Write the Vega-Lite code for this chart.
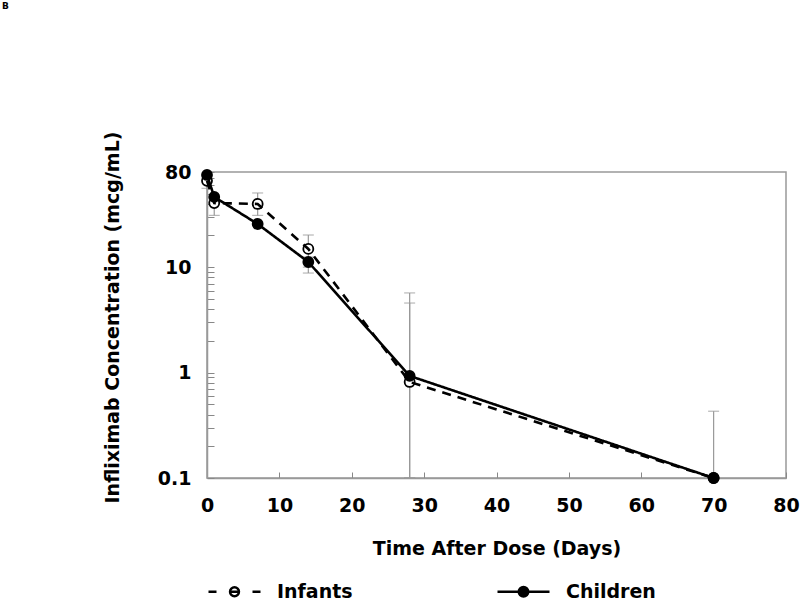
{
  "$schema": "https://vega.github.io/schema/vega-lite/v6.json",
  "width": 579,
  "height": 306,
  "autosize": {"type": "none"},
  "padding": {"left": 207, "top": 172, "right": 14, "bottom": 122},
  "background": "white",
  "config": {
    "font": "DejaVu Sans",
    "view": {"stroke": "#999", "strokeWidth": 1.5},
    "legend": {
      "orient": "none", "legendX": 16, "legendY": 408,
      "direction": "horizontal", "columns": 2,
      "symbolSize": 400, "symbolOffset": 0,
      "symbolStrokeColor": "black", "symbolStrokeWidth": 2.4,
      "labelOffset": 31, "columnPadding": 139, "padding": 0, "labelLimit": 300,
      "labelFont": "DejaVu Sans", "labelFontSize": 19, "labelFontWeight": "bold", "labelColor": "black"
    }
  },
  "title": {"text": "B", "anchor": "start", "frame": "group", "dx": -205, "offset": 120, "fontSize": 9, "fontWeight": "bold", "font": "DejaVu Sans", "color": "black"},
  "datasets": {
    "pk": [
      {"series": "Infants", "t": 0, "conc": 66},
      {"series": "Infants", "t": 1, "conc": 40.6},
      {"series": "Infants", "t": 7, "conc": 39.8},
      {"series": "Infants", "t": 14, "conc": 14.9},
      {"series": "Infants", "t": 28, "conc": 0.815},
      {"series": "Infants", "t": 70, "conc": 0.1},
      {"series": "Children", "t": 0, "conc": 75},
      {"series": "Children", "t": 1, "conc": 46.4},
      {"series": "Children", "t": 7, "conc": 25.7},
      {"series": "Children", "t": 14, "conc": 11.2},
      {"series": "Children", "t": 28, "conc": 0.93},
      {"series": "Children", "t": 70, "conc": 0.1}
    ],
    "err": [
      {"series": "Infants", "t": 0, "lo": 56, "hi": 70},
      {"series": "Infants", "t": 1, "lo": 31, "hi": 46},
      {"series": "Infants", "t": 7, "lo": 31, "hi": 50.6},
      {"series": "Infants", "t": 14, "lo": 8.8, "hi": 20.2},
      {"series": "Children", "t": 14, "lo": 10.0, "hi": 12.5},
      {"series": "Infants", "t": 28, "lo": 0.1, "hi": 5.7},
      {"series": "Children", "t": 28, "lo": 0.1, "hi": 4.57},
      {"series": "Infants", "t": 70, "lo": 0.1, "hi": 0.43}
    ]
  },
  "encoding": {
    "x": {
      "field": "t", "type": "quantitative",
      "scale": {"domain": [0, 80], "nice": false},
      "axis": {
        "title": "Time After Dose (Days)",
        "values": [0, 10, 20, 30, 40, 50, 60, 70, 80],
        "grid": false,
        "tickSize": -6,
        "tickColor": "#888",
        "domainColor": "#999",
        "domainWidth": 1.5,
        "labelFont": "DejaVu Sans", "labelFontSize": 19, "labelFontWeight": "bold", "labelColor": "black",
        "labelPadding": 24,
        "labelFlush": false,
        "titleFont": "DejaVu Sans", "titleFontSize": 19, "titleFontWeight": "bold", "titleColor": "black",
        "titleBaseline": "top",
        "titleY": 61
      }
    }
  },
  "layer": [
    {
      "data": {"name": "err"},
      "mark": {"type": "rule", "color": "#999", "strokeWidth": 1.2},
      "encoding": {
        "y": {
          "field": "lo", "type": "quantitative",
          "scale": {"type": "log", "domain": [0.1, 80], "nice": false},
          "axis": {
            "title": "Infliximab Concentration (mcg/mL)",
            "values": [0.1, 0.2, 0.3, 0.4, 0.5, 0.6, 0.7, 0.8, 0.9, 1, 2, 3, 4, 5, 6, 7, 8, 9, 10, 20, 30, 40, 50, 60, 70, 80],
            "labelExpr": "datum.value == 80 ? '80' : datum.value == 10 ? '10' : datum.value == 1 ? '1' : datum.value == 0.1 ? '0.1' : ''",
            "grid": false,
            "tickSize": -7,
            "tickColor": "#888",
            "domainColor": "#999",
            "domainWidth": 1.5,
            "labelFont": "DejaVu Sans", "labelFontSize": 19, "labelFontWeight": "bold", "labelColor": "black",
            "labelPadding": 23,
            "labelFlush": false,
            "labelOverlap": false,
            "titleFont": "DejaVu Sans", "titleFontSize": 19, "titleFontWeight": "bold", "titleColor": "black",
            "titleBaseline": "alphabetic",
            "titleAlign": "center",
            "titleAngle": -90,
            "titleX": -89,
            "titleY": 145
          }
        },
        "y2": {"field": "hi"}
      }
    },
    {
      "data": {"name": "err"},
      "mark": {"type": "tick", "orient": "horizontal", "color": "#999", "size": 11, "thickness": 1.2},
      "encoding": {"y": {"field": "hi", "type": "quantitative"}}
    },
    {
      "data": {"name": "err"},
      "mark": {"type": "tick", "orient": "horizontal", "color": "#999", "size": 11, "thickness": 1.2},
      "encoding": {"y": {"field": "lo", "type": "quantitative"}}
    },
    {
      "data": {"name": "pk"},
      "mark": {"type": "point", "shape": "circle", "filled": true, "size": 100, "stroke": "black", "strokeWidth": 1.8, "opacity": 1},
      "encoding": {
        "y": {"field": "conc", "type": "quantitative"},
        "fill": {"field": "series", "type": "nominal", "scale": {"range": ["black", "white"]}, "legend": null}
      }
    },
    {
      "data": {"name": "pk"},
      "mark": {"type": "line", "color": "black", "strokeWidth": 2.6},
      "encoding": {
        "y": {"field": "conc", "type": "quantitative"},
        "strokeDash": {"field": "series", "type": "nominal", "scale": {"range": [[1, 0], [9, 7]]}, "legend": null}
      }
    },
    {
      "data": {"name": "pk"},
      "mark": {"type": "point", "filled": true, "size": 100, "stroke": "black", "fillOpacity": 0, "strokeOpacity": 0},
      "encoding": {
        "y": {"field": "conc", "type": "quantitative"},
        "shape": {
          "field": "series", "type": "nominal",
          "scale": {"domain": ["Infants", "Children"], "range": [
            "M-2.6,0H-1.8M1.8,0H2.6M-0.45,0H0.45M-0.45,0A0.45,0.45 0 1,1 0.45,0A0.45,0.45 0 1,1 -0.45,0Z",
            "M-2.6,0H2.6M-0.48,0A0.48,0.48 0 1,1 0.48,0A0.48,0.48 0 1,1 -0.48,0Z"
          ]},
          "legend": {
            "title": null,
            "encode": {"symbols": {"update": {"stroke": {"value": "black"}, "strokeWidth": {"value": 2.4}, "opacity": {"value": 1}, "fillOpacity": {"value": 1}, "strokeOpacity": {"value": 1}}}}
          }
        },
        "color": {
          "field": "series", "type": "nominal",
          "scale": {"domain": ["Infants", "Children"], "range": ["white", "black"]},
          "legend": {
            "title": null,
            "encode": {"symbols": {"update": {"stroke": {"value": "black"}, "strokeWidth": {"value": 2.4}, "opacity": {"value": 1}, "fillOpacity": {"value": 1}, "strokeOpacity": {"value": 1}}}}
          }
        }
      }
    }
  ]
}
